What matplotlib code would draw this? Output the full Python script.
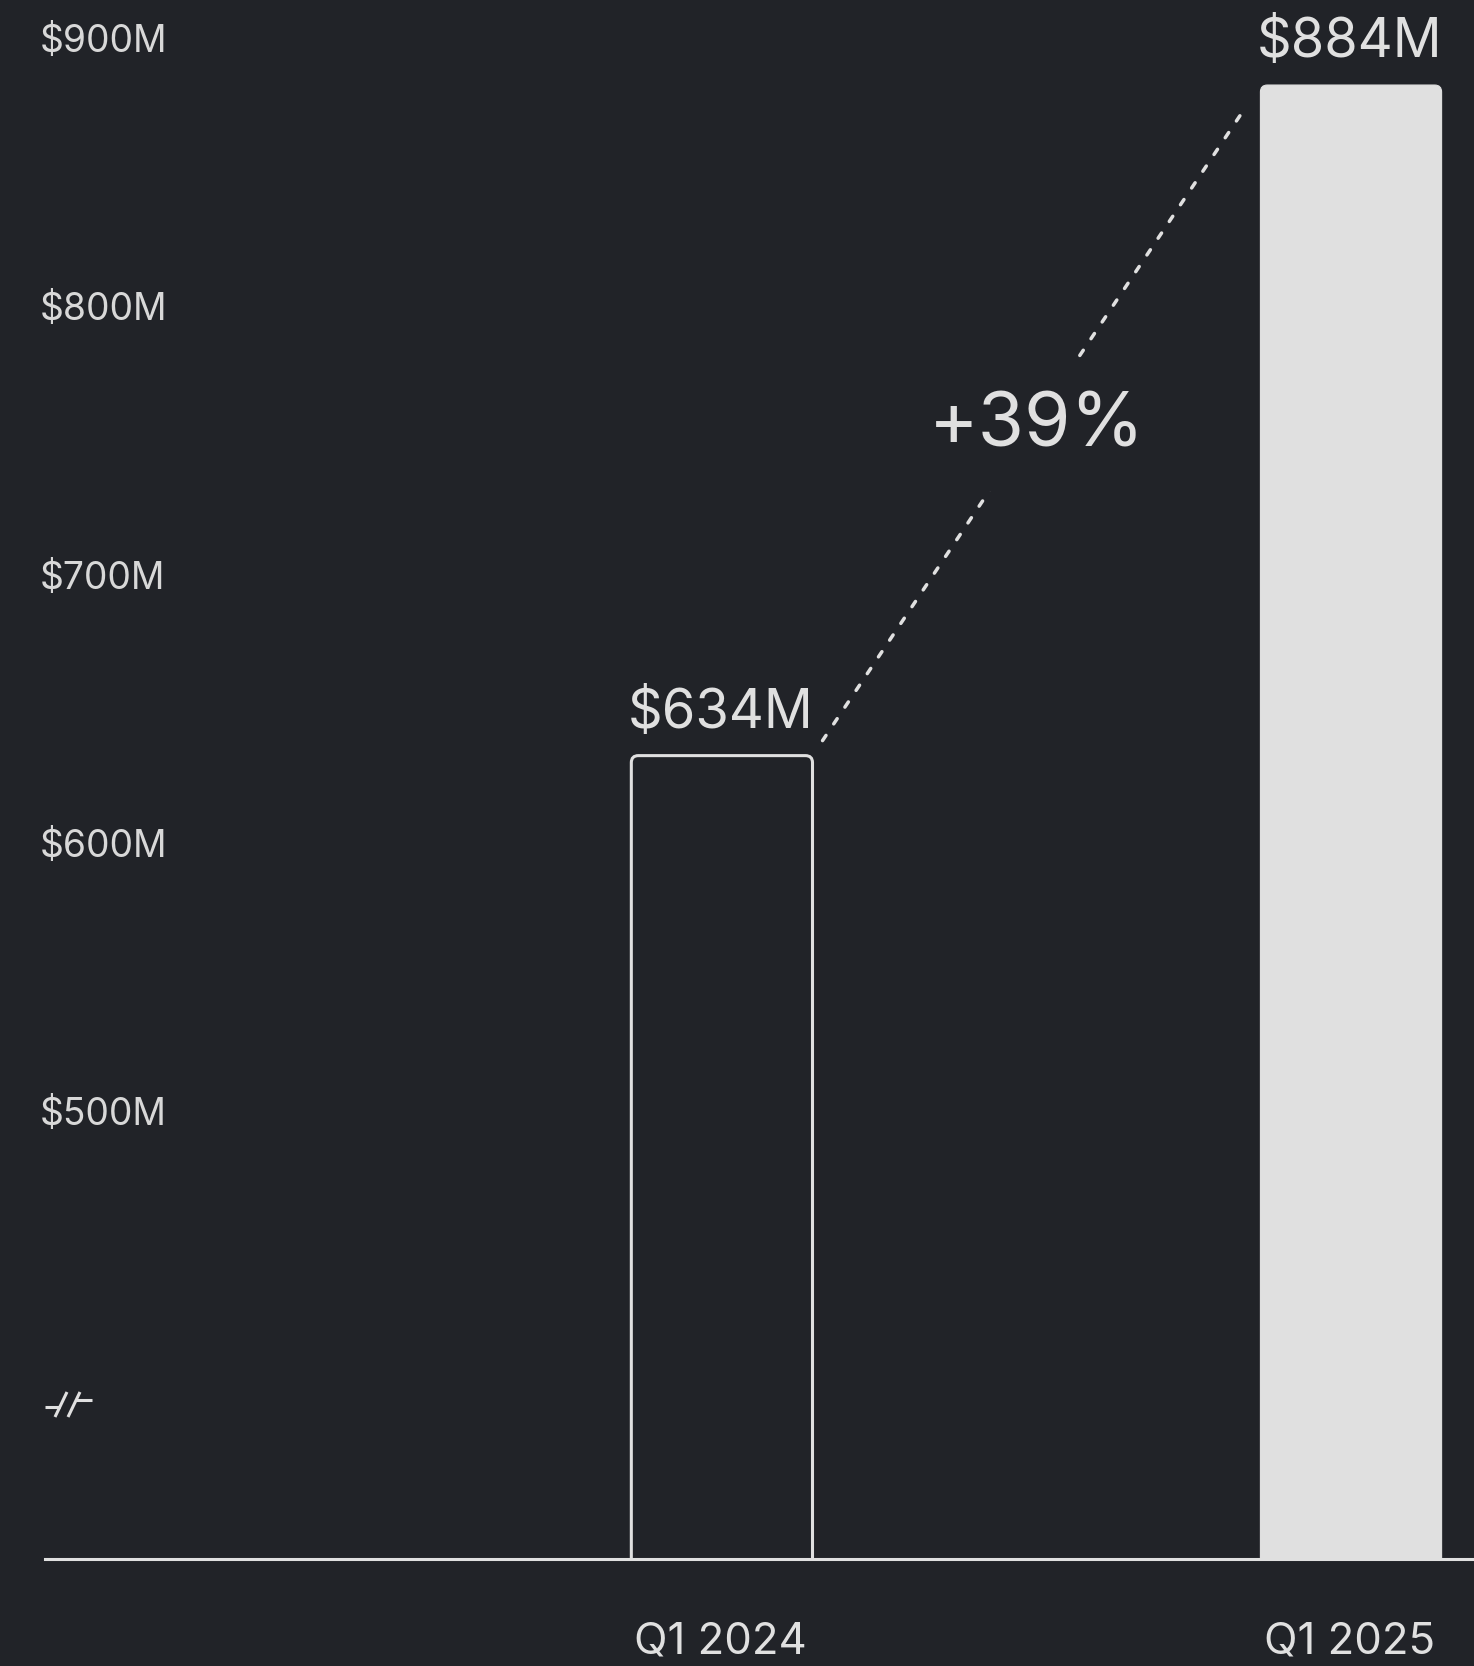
import matplotlib
matplotlib.use("Agg")
import matplotlib.pyplot as plt
from matplotlib.patches import FancyBboxPatch
from matplotlib import transforms
from matplotlib.lines import Line2D

# ---- data ----
categories = ["Q1 2024", "Q1 2025"]
revenue_m = [634, 884]
value_labels = ["$634M", "$884M"]
growth_label = "+39%"
tick_values = [500, 600, 700, 800, 900]
tick_labels = ["$500M", "$600M", "$700M", "$800M", "$900M"]
axis_floor = 334.5      # truncated value axis starts here
axis_ceiling = 915.7

# ---- style ----
BG = "#212328"
FG = "#e0e0e0"
TICK_FG = "#d8d8d8"
FONT = ["Inter", "DejaVu Sans"]
plt.rcParams["font.family"] = FONT

W, H, DPI = 1474, 1666, 100
fig = plt.figure(figsize=(W / DPI, H / DPI), dpi=DPI, facecolor=BG)
ax = fig.add_axes([45 / W, (H - 1559) / H, 1 - 45 / W, 1559 / H])
ax.set_facecolor(BG)
ax.set_xlim(-1.076, 1.1955)
ax.set_ylim(axis_floor, axis_ceiling)
for s in ax.spines.values():
    s.set_visible(False)
ax.set_xticks([])
ax.set_yticks([])

bar_w = 0.288
xs = list(range(len(categories)))

# pixel sizes of one data unit, used for round corners
ax_w_px = ax.get_position().width * W
ax_h_px = ax.get_position().height * H
px_per_x = ax_w_px / (ax.get_xlim()[1] - ax.get_xlim()[0])
px_per_y = ax_h_px / (ax.get_ylim()[1] - ax.get_ylim()[0])
corner_px = 7
rounding = corner_px / px_per_x
aspect = px_per_x / px_per_y

styles = [dict(fc=BG, ec=FG, lw=2.2), dict(fc=FG, ec=FG, lw=0.8)]
below = 20  # extend below the floor so lower corners are clipped away
for x, v, st in zip(xs, revenue_m, styles):
    box = FancyBboxPatch((x - bar_w / 2, axis_floor - below), bar_w, v - axis_floor + below,
                         boxstyle=f"round,pad=0,rounding_size={rounding}",
                         mutation_aspect=aspect, zorder=2, **st)
    ax.add_patch(box)

# value labels above bars
for x, v, lab in zip(xs, revenue_m, value_labels):
    ax.annotate(lab, (x, v), xytext=(-1, 20), textcoords="offset points",
                ha="center", va="baseline", fontsize=39, color=FG, zorder=5)

# category labels under the baseline
for x, cat in zip(xs, categories):
    ax.annotate(cat, (x, axis_floor), xytext=(-1, -68), textcoords="offset points",
                ha="center", va="baseline", fontsize=31.5, color=FG,
                annotation_clip=False)

# baseline
ax.axhline(axis_floor, xmin=0, xmax=1, color=FG, lw=2.2, clip_on=False, zorder=3)

# y tick labels
ytrans = transforms.blended_transform_factory(fig.transFigure, ax.transData)
for tv, tl in zip(tick_values, tick_labels):
    ax.text(40 / W, tv, tl, transform=ytrans, ha="left", va="center",
            fontsize=26.8, color=TICK_FG)

# dotted growth connector between bar tops
x0, x1 = xs[0] + bar_w / 2, xs[1] - bar_w / 2
ax.annotate("", xy=(x1, revenue_m[1]), xytext=(x0, revenue_m[0]),
            arrowprops=dict(arrowstyle="-", shrinkA=13, shrinkB=17, lw=2.5,
                            linestyle=(0, (1.8, 4.0)), color=FG), zorder=3)
ax.annotate(growth_label, ((x0 + x1) / 2, (revenue_m[0] + revenue_m[1]) / 2),
            xytext=(0, -5), textcoords="offset points",
            ha="center", va="center", fontsize=54, color=FG, zorder=4,
            bbox=dict(boxstyle="square,pad=0.37", fc=BG, ec="none"))

# axis-break mark on the value axis
def fpx(x, y):
    return x / W, 1 - y / H

brk = [((45, 1407), (60, 1407)),
       ((55, 1417), (67, 1392)),
       ((68, 1417), (80, 1392)),
       ((76, 1400), (92, 1400))]
for a, b in brk:
    pa, pb = fpx(*a), fpx(*b)
    fig.add_artist(Line2D([pa[0], pb[0]], [pa[1], pb[1]], transform=fig.transFigure,
                          color=FG, lw=2.2, solid_capstyle="butt"))

fig.savefig("out.png", dpi=DPI, facecolor=BG)
